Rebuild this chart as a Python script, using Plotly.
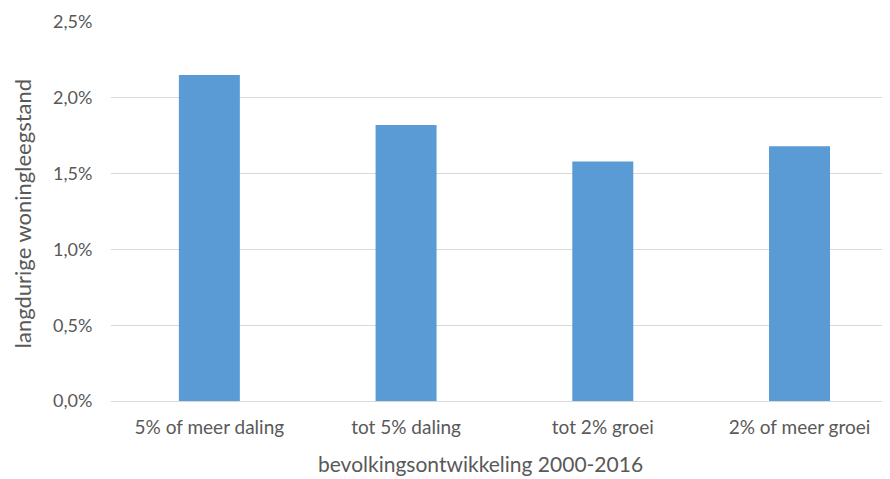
import plotly.graph_objects as go

categories = ["5% of meer daling", "tot 5% daling", "tot 2% groei", "2% of meer groei"]
values = [0.0215, 0.0182, 0.0158, 0.0168]
tick_values = [0, 0.005, 0.01, 0.015, 0.02, 0.025]
x_title = "bevolkingsontwikkeling 2000-2016"
y_title = "langdurige woningleegstand"

fig = go.Figure(go.Bar(
    x=categories, y=values,
    marker=dict(color="#5b9bd5", line=dict(width=0)),
    width=0.31,
))

font_family = "Lato, Open Sans, sans-serif"
fig.update_layout(
    width=882, height=471,
    margin=dict(l=103, r=0, t=14, b=78, autoexpand=False),
    paper_bgcolor="white", plot_bgcolor="white",
    separators=",.",
    showlegend=False,
    font=dict(family=font_family, color="#595959", size=18),
    xaxis=dict(
        range=[-0.5, 3.46],
        showgrid=False, showline=False,
        ticks="outside", ticklen=9, tickcolor="rgba(0,0,0,0)",
        automargin=False,
        tickfont=dict(size=19, color="#595959"),
    ),
    yaxis=dict(
        range=[0, 0.025],
        tickvals=tick_values,
        tickformat=".1%",
        automargin=False,
        showgrid=True, gridcolor="#d9d9d9", gridwidth=1,
        zeroline=True, zerolinecolor="#d9d9d9", zerolinewidth=1,
        showline=False, ticks="outside", ticklen=14, tickcolor="rgba(0,0,0,0)",
        tickfont=dict(size=18, color="#595959"),
    ),
    annotations=[
        dict(text=x_title, xref="paper", yref="paper", x=0.4737, y=-0.1662,
             xanchor="center", yanchor="middle", showarrow=False, borderpad=0,
             font=dict(size=21, color="#595959")),
        dict(text=y_title, xref="paper", yref="paper", x=-0.1142, y=0.493,
             xanchor="center", yanchor="middle", textangle=-90, showarrow=False, borderpad=0,
             font=dict(size=22, color="#595959")),
    ],
)

fig.write_html("out.html")
